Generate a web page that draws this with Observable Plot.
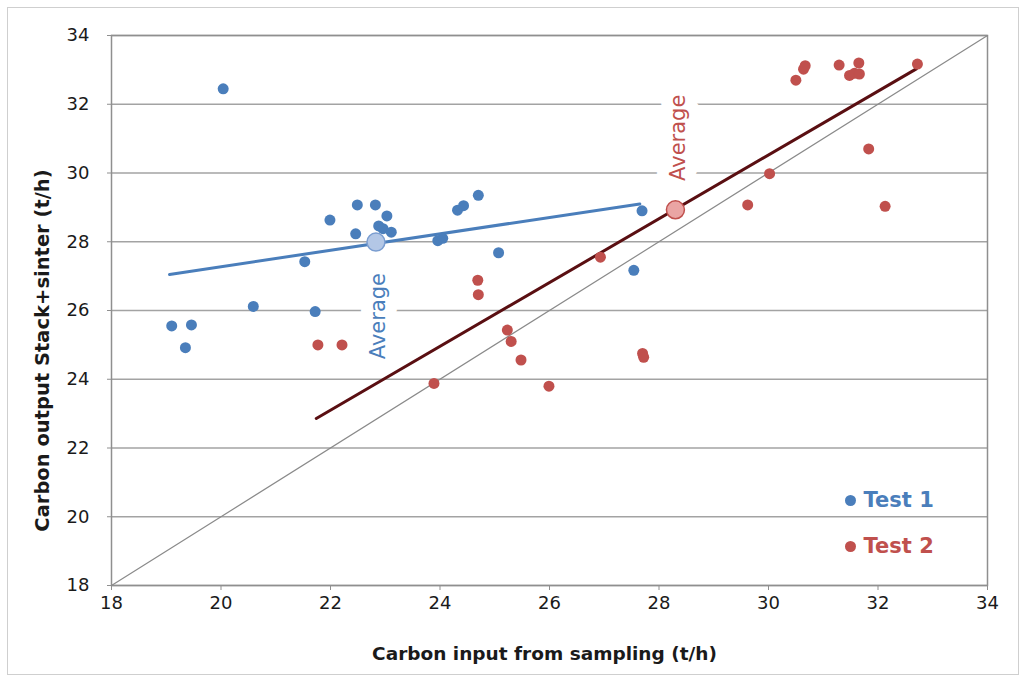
<!DOCTYPE html>
<html><head><meta charset="utf-8">
<script src="https://cdn.jsdelivr.net/npm/d3@7"></script>
<script src="https://cdn.jsdelivr.net/npm/@observablehq/plot@0.6"></script>
<style>
body{margin:0;background:#fff;}
#wrap{position:relative;width:1027px;height:682px;overflow:hidden;}
#border{position:absolute;left:7px;top:7px;width:1012px;height:668px;border:1.5px solid #cfcfcf;pointer-events:none;box-sizing:border-box;}
</style></head><body><div id="wrap"><div id="border"></div></div>
<script>
// Test 1 (blue)
const test1X = [20.04,19.10,19.46,19.35,20.59,21.53,21.72,21.99,22.49,22.82,22.46,23.03,22.88,22.96,23.11,23.96,24.05,24.32,24.43,24.70,25.07,27.54,27.69];
const test1Y = [32.45,25.55,25.58,24.92,26.12,27.42,25.97,28.63,29.07,29.07,28.23,28.75,28.46,28.38,28.28,28.03,28.10,28.92,29.05,29.35,27.68,27.17,28.90];
// Test 2 (red)
const test2X = [21.77,22.21,23.89,24.69,24.70,25.23,25.30,25.48,25.99,26.93,27.70,27.72,29.62,30.02,30.50,30.64,30.67,31.29,31.48,31.57,31.65,31.66,31.83,32.13,32.72];
const test2Y = [25.00,25.00,23.88,26.88,26.46,25.43,25.10,24.56,23.80,27.55,24.75,24.64,29.07,29.98,32.70,33.02,33.12,33.14,32.84,32.90,33.20,32.88,30.70,29.03,33.17];
// Averages
const avgSeries = ["Test 1","Test 2"];
const avgX = [22.83, 28.30];
const avgY = [27.99, 28.93];
// Fitted lines (endpoints)
const fit1X = [19.06, 27.65], fit1Y = [27.05, 29.10];
const fit2X = [21.74, 32.70], fit2Y = [22.86, 33.03];
// 1:1 line
const diagX = [18, 34], diagY = [18, 34];
const xTicks = [18,20,22,24,26,28,30,32,34];
const yTicks = [18,20,22,24,26,28,30,32,34];

const blue = "#4a7ebb", red = "#c0504d";
const t1 = test1X.map((x,i)=>({x, y:test1Y[i]}));
const t2 = test2X.map((x,i)=>({x, y:test2Y[i]}));
const avg = avgSeries.map((s,i)=>({s, x:avgX[i], y:avgY[i]}));
const f1 = fit1X.map((x,i)=>({x, y:fit1Y[i]}));
const f2 = fit2X.map((x,i)=>({x, y:fit2Y[i]}));
const dg = diagX.map((x,i)=>({x, y:diagY[i]}));

const chart = Plot.plot({
  width: 1027, height: 682,
  marginLeft: 111, marginRight: 40, marginTop: 35, marginBottom: 97,
  x: {domain: [18, 34]},
  y: {domain: [18, 34]},
  style: {fontFamily: "DejaVu Sans, sans-serif", background: "transparent", color: "#1a1a1a"},
  marks: [
    Plot.gridY(yTicks, {stroke: "#a3a3a3", strokeOpacity: 1, strokeWidth: 1.5}),
    Plot.frame({stroke: "#8f8f8f", strokeWidth: 1.5}),
    Plot.axisX({ticks: xTicks, tickSize: 5, tickPadding: 6, fontSize: 18, stroke: "#8f8f8f",
      label: "Carbon input from sampling (t/h)", labelAnchor: "center", labelArrow: "none", labelOffset: 74}),
    Plot.axisY({ticks: yTicks, tickSize: 4, tickPadding: 18, fontSize: 18, stroke: "#8f8f8f",
      label: "Carbon output Stack+sinter (t/h)", labelAnchor: "center", labelArrow: "none", labelOffset: 76}),
    Plot.text(avg.filter(d=>d.s==="Test 1"), {x:"x", y:"y", text: ()=>"Average", rotate: -90, dy: 74, dx: 2,
      fill: blue, stroke: "white", strokeWidth: 24, fontSize: 21, fontWeight: 500}),
    Plot.text(avg.filter(d=>d.s==="Test 2"), {x:"x", y:"y", text: ()=>"Average", rotate: -90, dy: -72, dx: 3,
      fill: red, stroke: "white", strokeWidth: 24, fontSize: 21, fontWeight: 500}),
    Plot.line(dg, {x:"x", y:"y", stroke: "#8a8a8a", strokeWidth: 1.2}),
    Plot.line(f1, {x:"x", y:"y", stroke: blue, strokeWidth: 3}),
    Plot.line(f2, {x:"x", y:"y", stroke: "#5a0f12", strokeWidth: 3}),
    Plot.dot(t1, {x:"x", y:"y", r: 5.5, fill: blue}),
    Plot.dot(t2, {x:"x", y:"y", r: 5.5, fill: red}),
    Plot.dot(avg, {x:"x", y:"y", r: 9, fill: d => d.s==="Test 1" ? "#b3c7e6" : "#eaa5a4",
      stroke: d => d.s==="Test 1" ? "#7a9dd0" : red, strokeWidth: 1.5}),
    // legend
    Plot.dot([avgSeries[0]], {frameAnchor: "bottom-right", dx: -137, dy: -85, r: 5.5, fill: blue}),
    Plot.text([avgSeries[0]], {frameAnchor: "bottom-right", dx: -124, dy: -85, text: d=>d, textAnchor: "start", lineAnchor: "middle", fill: blue, fontSize: 21, fontWeight: "bold"}),
    Plot.dot([avgSeries[1]], {frameAnchor: "bottom-right", dx: -137, dy: -39, r: 5.5, fill: red}),
    Plot.text([avgSeries[1]], {frameAnchor: "bottom-right", dx: -124, dy: -39, text: d=>d, textAnchor: "start", lineAnchor: "middle", fill: red, fontSize: 21, fontWeight: "bold"})
  ]
});
d3.select(chart).selectAll("[aria-label='x-axis label'] text")
  .attr("font-weight", "bold").attr("font-size", 18.5).attr("dx", -5);
d3.select(chart).selectAll("[aria-label='y-axis label'] text")
  .attr("font-weight", "bold").attr("font-size", 19.5).attr("dx", -40);
document.getElementById("wrap").prepend(chart);
</script></body></html>
